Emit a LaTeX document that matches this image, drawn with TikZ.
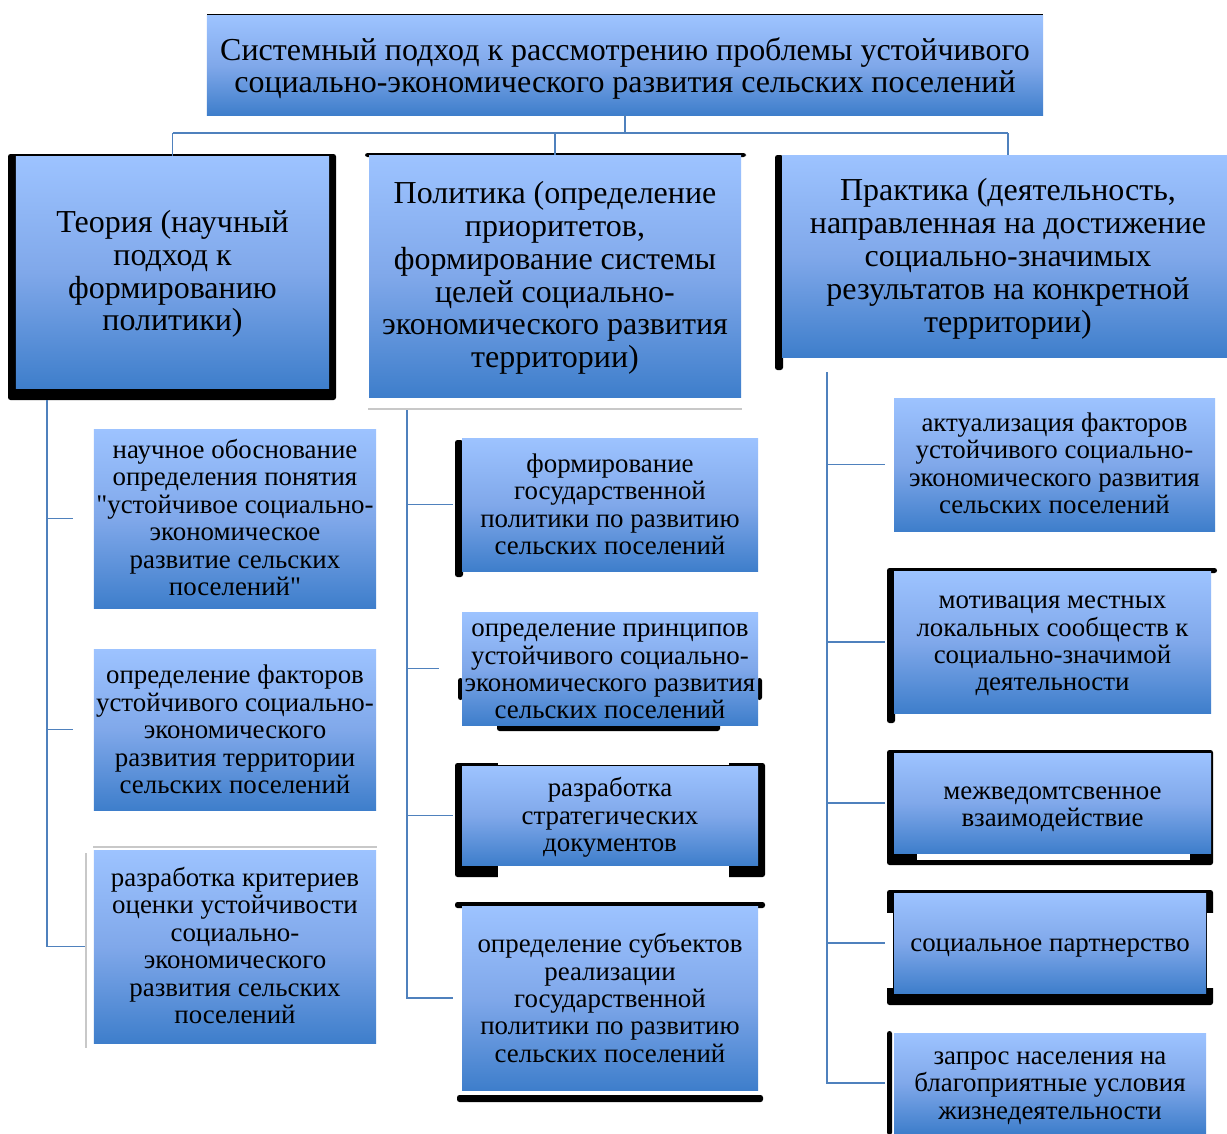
\documentclass[tikz,border=0pt]{standalone}
\usepackage{fontspec}
\setmainfont{Liberation Serif}[Ligatures=TeXOff]
\usetikzlibrary{calc}
\definecolor{gtop}{RGB}{157,195,255}
\definecolor{gmid}{RGB}{128,168,234}
\definecolor{gbot}{RGB}{62,126,203}
\definecolor{linkc}{RGB}{79,129,189}
\definecolor{ghost}{RGB}{200,200,200}
\tikzset{
 box/.style={shade, top color=gtop, bottom color=gbot, middle color=gmid, draw=none, inner sep=0pt},
 bigtxt/.style={font=\fontsize{18.2}{18.7}\selectfont, align=center, inner sep=0pt, text=black},
 smtxt/.style={font=\fontsize{15.3}{15.6}\selectfont, align=center, inner sep=0pt, text=black},
 link/.style={draw=linkc, line width=1.1pt},
 blot/.style={fill=black, rounded corners=0.5mm},
 faint/.style={draw=ghost, line width=0.6pt},
}
\begin{document}
\begin{tikzpicture}[x=0.2mm,y=-0.2mm]
\path[use as bounding box, fill=white] (0,0) rectangle (1227,1133);
% rendering artifacts (black frames)
\fill[black] (207,13.5) rectangle (1043,16.5);
\fill[blot] (8,154) rectangle (336,400);
\fill[blot] (365,153) rectangle (746,157);
\draw[faint] (368,409) -- (742,409);
\fill[blot] (775,155) rectangle (783,370);
\draw[faint] (93,847) -- (377,847);
\draw[faint] (86,853) -- (86,1048);
\fill[blot] (455,440) rectangle (463,577);
\fill[blot] (458,678) rectangle (463,700);
\fill[blot] (757,678) rectangle (762,700);
\fill[blot] (497,718) rectangle (720,731);
\fill[blot] (455,763) rectangle (765,877);
\fill[white] (498,758) rectangle (729,765);
\fill[white] (498,866) rectangle (729,880);
\fill[blot] (455,902) rectangle (765,908);
\fill[blot] (457,1095) rectangle (763,1102);
\fill[blot] (887,568) rectangle (895,723);
\fill[blot] (890,568) rectangle (1217,573);
\fill[blot] (887,750) rectangle (1213,865);
\fill[white] (917,853) rectangle (1190,860);
\fill[blot] (887,890) rectangle (1213,1005);
\fill[white] (886,913) rectangle (893,988);
\fill[white] (1207,913) rectangle (1214,988);
\fill[blot] (887,1031) rectangle (892,1135);

% boxes
\node[box, minimum width=167.2mm, minimum height=19.8mm, label={[bigtxt, yshift=-0.6mm]center:{Системный подход к рассмотрению проблемы устойчивого\\социально-экономического развития сельских поселений}}] (title) at (625,65.5) {};
\node[box, minimum width=62.6mm, minimum height=46.4mm, label={[bigtxt, yshift=-0.4mm]center:{Теория (научный\\подход к\\формированию\\политики)}}] (theory) at (172.5,272) {};
\node[box, minimum width=74.4mm, minimum height=48.4mm, label={[bigtxt, yshift=-0.4mm]center:{Политика (определение\\приоритетов,\\формирование системы\\целей социально-\\экономического развития\\территории)}}] (politics) at (555,276) {};
\node[box, minimum width=89mm, minimum height=40.4mm, label={[bigtxt, yshift=-0.6mm, xshift=0.7mm]center:{Практика (деятельность,\\направленная на достижение\\социально-значимых\\результатов на конкретной\\территории)}}] (practice) at (1004.5,256) {};

\node[box, minimum width=56.4mm, minimum height=35.8mm, label={[smtxt, yshift=0.2mm]center:{научное обоснование\\определения понятия\\"устойчивое социально-\\экономическое\\развитие сельских\\поселений"}}] (T1) at (235,518.5) {};
\node[box, minimum width=56.4mm, minimum height=32.2mm, label={[smtxt]center:{определение факторов\\устойчивого социально-\\экономического\\развития территории\\сельских поселений}}] (T2) at (235,729.5) {};
\node[box, minimum width=56.4mm, minimum height=38.6mm, label={[smtxt, yshift=0.2mm]center:{разработка критериев\\оценки устойчивости\\социально-\\экономического\\развития сельских\\поселений}}] (T3) at (235,946.5) {};

\node[box, minimum width=59.2mm, minimum height=26.6mm, label={[smtxt]center:{формирование\\государственной\\политики по развитию\\сельских поселений}}] (P1) at (610,504.5) {};
\node[box, minimum width=59.2mm, minimum height=22.6mm, label={[smtxt, yshift=-0.6mm]center:{определение принципов\\устойчивого социально-\\экономического развития\\сельских поселений}}] (P2) at (610,668.5) {};
\node[box, minimum width=59.2mm, minimum height=19.8mm, label={[smtxt, yshift=-0.4mm]center:{разработка\\стратегических\\документов}}] (P3) at (610,815.5) {};
\node[box, minimum width=59.2mm, minimum height=36.8mm, label={[smtxt]center:{определение субъектов\\реализации\\государственной\\политики по развитию\\сельских поселений}}] (P4) at (610,998) {};

\node[box, minimum width=64.2mm, minimum height=26.6mm, label={[smtxt, yshift=0.2mm]center:{актуализация факторов\\устойчивого социально-\\экономического развития\\сельских поселений}}] (R1) at (1054.5,464.5) {};
\node[box, minimum width=63.4mm, minimum height=28.4mm, label={[smtxt, yshift=-0.8mm]center:{мотивация местных\\локальных сообществ к\\социально-значимой\\деятельности}}] (R2) at (1052.5,642) {};
\node[box, minimum width=63.4mm, minimum height=20mm, label={[smtxt, yshift=-1.2mm]center:{межведомтсвенное\\взаимодействие}}] (R3) at (1052.5,803) {};
\node[box, minimum width=62.4mm, minimum height=20mm, label={[smtxt, yshift=-1mm]center:{социальное партнерство}}] (R4) at (1050,943) {};
\node[box, minimum width=62.4mm, minimum height=20mm, label={[smtxt, yshift=-1mm]center:{запрос населения на\\благоприятные условия\\жизнедеятельности}}] (R5) at (1050,1083) {};

% connectors
\coordinate (hubL) at (172.5,133);
\coordinate (hubR) at (1008,133);
\draw[link] (title.south) -- (title.south |- hubL);
\draw[link] (hubL) -- (hubR);
\draw[link] (hubL) -- (theory.north);
\draw[link] (politics.north |- hubL) -- (politics.north);
\draw[link] (hubR) -- (hubR |- practice.north);

\coordinate (tTop) at (47,400);
\draw[link] (tTop) |- ($(T1.west)+(-21,0)$);
\draw[link] (tTop) |- ($(T2.west)+(-21,0)$);
\draw[link] (tTop) |- ($(T3.west)+(-9,0)$);

\coordinate (pTop) at (407,410);
\draw[link] (pTop) |- ($(P1.west)+(-9,0)$);
\draw[link] (pTop) |- ($(P2.west)+(-23,0)$);
\draw[link] (pTop) |- ($(P3.west)+(-9,0)$);
\draw[link] (pTop) |- ($(P4.west)+(-9,0)$);

\coordinate (rTop) at (827,372);
\draw[link] (rTop) |- ($(R1.west)+(-9,0)$);
\draw[link] (rTop) |- ($(R2.west)+(-9,0)$);
\draw[link] (rTop) |- ($(R3.west)+(-9,0)$);
\draw[link] (rTop) |- ($(R4.west)+(-9,0)$);
\draw[link] (rTop) |- ($(R5.west)+(-9,0)$);
\end{tikzpicture}
\end{document}
